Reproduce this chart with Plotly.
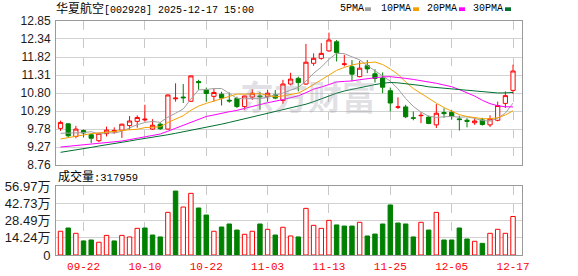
import plotly.graph_objects as go

# ---------------- data ----------------
dates = ["09-17", "09-18", "09-19", "09-22", "09-23", "09-24", "09-25", "09-26", "09-29", "09-30",
         "10-09", "10-10", "10-13", "10-14", "10-15", "10-16", "10-17", "10-20", "10-21", "10-22",
         "10-23", "10-24", "10-27", "10-28", "10-29", "10-30", "10-31", "11-03", "11-04", "11-05",
         "11-06", "11-07", "11-10", "11-11", "11-12", "11-13", "11-14", "11-17", "11-18", "11-19",
         "11-20", "11-21", "11-24", "11-25", "11-26", "11-27", "11-28", "12-01", "12-02", "12-03",
         "12-04", "12-05", "12-08", "12-09", "12-10", "12-11", "12-12", "12-15", "12-16", "12-17"]

opens = [9.80, 9.93, 9.57, 9.74, 9.62, 9.45, 9.65, 9.70, 9.75, 9.88,
         10.00, 10.04, 9.78, 9.92, 9.78, 10.64, 10.69, 10.57, 11.13, 10.89,
         10.71, 10.77, 10.60, 10.65, 10.42, 10.69, 10.72, 10.70, 10.75, 10.59,
         11.06, 11.22, 11.06, 11.65, 11.79, 12.00, 12.26, 11.62, 11.55, 11.27,
         11.58, 11.35, 11.23, 10.87, 10.40, 10.41, 10.10, 10.16, 10.12, 9.90,
         10.25, 10.26, 10.07, 10.03, 9.96, 10.04, 9.90, 10.03, 10.51, 10.88]
highs = [10.02, 9.94, 9.87, 9.77, 9.66, 9.67, 9.85, 9.83, 9.93, 10.15,
         10.17, 10.47, 10.06, 9.97, 10.76, 11.08, 11.06, 11.30, 11.18, 10.96,
         10.92, 10.84, 10.82, 10.70, 10.73, 10.91, 10.83, 10.90, 10.89, 11.18,
         11.38, 11.27, 12.20, 11.93, 12.22, 12.52, 12.31, 11.89, 11.74, 11.72,
         11.74, 11.48, 11.39, 10.96, 10.68, 10.47, 10.28, 10.26, 10.16, 10.49,
         10.37, 10.33, 10.16, 10.09, 10.08, 10.10, 10.17, 10.56, 10.85, 11.61]
lows = [9.73, 9.54, 9.52, 9.55, 9.38, 9.41, 9.57, 9.65, 9.53, 9.77,
        9.82, 9.99, 9.76, 9.76, 9.77, 10.56, 10.52, 10.55, 10.90, 10.56,
        10.56, 10.45, 10.53, 10.38, 10.33, 10.61, 10.33, 10.56, 10.63, 10.50,
        11.02, 10.85, 11.04, 11.58, 11.75, 11.98, 11.70, 11.56, 11.14, 11.25,
        11.37, 11.10, 10.80, 10.28, 10.35, 10.09, 10.03, 9.95, 9.92, 9.81,
        10.10, 10.05, 9.74, 9.83, 9.90, 9.88, 9.84, 10.00, 10.38, 10.78]
closes = [9.97, 9.59, 9.78, 9.67, 9.52, 9.66, 9.75, 9.74, 9.92, 10.01,
          10.11, 10.06, 9.89, 9.79, 10.75, 10.66, 10.67, 11.29, 11.10, 10.79,
          10.82, 10.66, 10.58, 10.42, 10.72, 10.80, 10.70, 10.80, 10.66, 11.06,
          11.20, 11.10, 11.68, 11.79, 11.93, 12.31, 11.95, 11.63, 11.34, 11.51,
          11.49, 11.22, 10.97, 10.52, 10.41, 10.13, 10.09, 10.17, 9.94, 10.23,
          10.22, 10.14, 10.05, 10.00, 10.01, 9.91, 10.07, 10.45, 10.73, 11.43]

ma5 = [9.66, 9.67, 9.66, 9.68, 9.706, 9.644, 9.676, 9.668, 9.718, 9.816,
       9.906, 9.968, 9.998, 9.972, 10.12, 10.23, 10.352, 10.632, 10.894, 10.902,
       10.934, 10.932, 10.79, 10.654, 10.64, 10.636, 10.644, 10.688, 10.736, 10.804,
       10.884, 10.964, 11.14, 11.366, 11.54, 11.762, 11.932, 11.922, 11.832, 11.748,
       11.584, 11.438, 11.306, 11.142, 10.922, 10.65, 10.424, 10.264, 10.148, 10.112,
       10.13, 10.14, 10.116, 10.128, 10.084, 10.022, 10.008, 10.088, 10.234, 10.518]
ma10 = [9.50, 9.54, 9.58, 9.62, 9.65, 9.67, 9.70, 9.72, 9.74, 9.761,
        9.775, 9.822, 9.833, 9.845, 9.968, 10.068, 10.160, 10.315, 10.433, 10.511,
        10.582, 10.642, 10.711, 10.774, 10.771, 10.785, 10.788, 10.739, 10.695, 10.722,
        10.76, 10.804, 10.914, 11.051, 11.172, 11.323, 11.448, 11.531, 11.599, 11.644,
        11.673, 11.685, 11.614, 11.487, 11.335, 11.117, 10.931, 10.785, 10.645, 10.517,
        10.39, 10.282, 10.19, 10.138, 10.098, 10.076, 10.074, 10.102, 10.181, 10.301]
ma20 = [9.27, 9.29, 9.31, 9.33, 9.35, 9.36, 9.38, 9.40, 9.44, 9.48,
        9.52, 9.56, 9.60, 9.64, 9.72, 9.80, 9.88, 9.97, 10.06, 10.138,
        10.181, 10.234, 10.274, 10.312, 10.372, 10.429, 10.476, 10.528, 10.565, 10.618,
        10.672, 10.724, 10.814, 10.914, 10.973, 11.054, 11.118, 11.135, 11.147, 11.183,
        11.217, 11.245, 11.264, 11.269, 11.254, 11.22, 11.19, 11.158, 11.122, 11.081,
        11.032, 10.984, 10.903, 10.813, 10.717, 10.597, 10.503, 10.444, 10.414, 10.41]
ma30 = [9.12, 9.15, 9.18, 9.22, 9.26, 9.30, 9.33, 9.37, 9.40, 9.44,
        9.48, 9.51, 9.54, 9.57, 9.62, 9.66, 9.70, 9.75, 9.79, 9.83,
        9.87, 9.92, 9.97, 10.02, 10.07, 10.13, 10.18, 10.23, 10.28, 10.333,
        10.374, 10.424, 10.487, 10.558, 10.638, 10.727, 10.80, 10.862, 10.91, 10.96,
        11.006, 11.044, 11.08, 11.105, 11.093, 11.075, 11.056, 11.018, 10.98, 10.961,
        10.941, 10.924, 10.906, 10.892, 10.869, 10.839, 10.818, 10.806, 10.809, 10.821]

# volume in 万 (10k shares)
volumes = [19.6, 22.3, 17.9, 11.6, 12.4, 10.5, 16.2, 11.6, 16.2, 14.9,
           22.0, 22.3, 16.5, 14.9, 35.2, 52.8, 39.6, 50.9, 38.8, 33.0,
           19.6, 23.1, 25.6, 20.6, 17.1, 19.6, 25.6, 21.2, 16.5, 22.9,
           15.7, 14.9, 38.5, 24.5, 22.0, 28.6, 24.8, 23.9, 23.9, 27.0,
           15.7, 17.3, 25.6, 41.3, 26.4, 25.6, 14.9, 27.0, 20.6, 35.2,
           12.4, 12.4, 22.3, 13.2, 11.3, 9.6, 17.9, 21.2, 17.9, 31.7959]

price_ticks = [8.76, 9.27, 9.78, 10.29, 10.80, 11.31, 11.82, 12.34, 12.85]
vol_ticks = [0, 14.24, 28.49, 42.73, 56.97]
vol_tick_text = ["0", "14.24万", "28.49万", "42.73万", "56.97万"]
date_ticks = ["09-22", "10-10", "10-22", "11-03", "11-13", "11-25", "12-05", "12-17"]

title_name = "华夏航空"
title_rest = "[002928] 2025-12-17 15:00"
vol_label = "成交量"
vol_last = "317959"
ma_names = ["5PMA", "10PMA", "20PMA", "30PMA"]

# ---------------- styles ----------------
RED = "#ff0000"
GREEN = "#008000"
MA_COLORS = ["#a0a0a0", "#f5a000", "#ff00ff", "#007030"]
FRAME = "#9a9a9a"
GRID = "#d2d2d2"
VGRID = "#c8c8c8"

W, H = 578, 276
L, R, T, B = 56, 56, 21, 21
PW, PH = W - L - R, H - T - B


def px_x(px):
    return (px - L) / PW


def px_y(py):
    return (H - B - py) / PH


fig = go.Figure()

fig.add_trace(go.Candlestick(
    x=dates, open=opens, high=highs, low=lows, close=closes,
    increasing=dict(line=dict(color=RED, width=1), fillcolor="white"),
    decreasing=dict(line=dict(color=GREEN, width=1), fillcolor=GREEN),
    whiskerwidth=0, xaxis="x", yaxis="y", showlegend=False, hoverinfo="skip"))

for vals, col in zip([ma5, ma10, ma20, ma30], MA_COLORS):
    fig.add_trace(go.Scatter(x=dates, y=vals, mode="lines",
                             line=dict(color=col, width=1),
                             xaxis="x", yaxis="y", showlegend=False, hoverinfo="skip"))

up = [True] + [closes[i] >= closes[i - 1] for i in range(1, len(closes))]
fig.add_trace(go.Bar(
    x=dates, y=volumes, width=0.58,
    marker=dict(color=["white" if u else GREEN for u in up],
                line=dict(color=[RED if u else GREEN for u in up], width=1)),
    xaxis="x2", yaxis="y2", showlegend=False, hoverinfo="skip"))

xr = [-0.59, 60.17]
main_bottom = px_y(165)
vol_top = px_y(186)

axis_common = dict(showline=True, mirror=True, linecolor=FRAME, linewidth=1,
                   ticks="", zeroline=False, fixedrange=True, automargin=False)

fig.update_layout(
    width=W, height=H,
    margin=dict(l=L, r=R, t=T, b=B, pad=0, autoexpand=False),
    paper_bgcolor="white", plot_bgcolor="white",
    showlegend=False, boxgap=0.45, boxgroupgap=0,
    xaxis=dict(domain=[0, 1], anchor="y", type="category", range=xr,
               tickvals=date_ticks, showticklabels=False,
               showgrid=True, gridcolor=VGRID, griddash="dash", gridwidth=1,
               rangeslider=dict(visible=False), **axis_common),
    yaxis=dict(domain=[main_bottom, 1], anchor="x", range=[8.76, 12.85],
               tickvals=price_ticks, ticktext=[f"{v:.2f}" for v in price_ticks],
               showgrid=True, gridcolor=GRID, gridwidth=1,
               tickfont=dict(family="Liberation Sans", size=12, color="#1a1a1a"),
               ticklabelstandoff=2, **axis_common),
    xaxis2=dict(domain=[0, 1], anchor="y2", type="category", range=xr,
                matches="x", tickvals=date_ticks, ticktext=date_ticks,
                showgrid=True, gridcolor=VGRID, griddash="dash", gridwidth=1,
                tickfont=dict(family="Liberation Mono", size=11, color=RED),
                ticklabelstandoff=1, **axis_common),
    yaxis2=dict(domain=[0, vol_top], anchor="x2", range=[0, 56.97],
                tickvals=vol_ticks, ticktext=vol_tick_text,
                showgrid=True, gridcolor=GRID, gridwidth=1,
                tickfont=dict(family="Liberation Sans, Noto Sans CJK SC", size=13, color="#1a1a1a"),
                ticklabelstandoff=2, **axis_common),
)

annotations = []
# watermark
annotations.append(dict(xref="paper", yref="paper", x=px_x(308), y=px_y(95),
                        text="东方财富", showarrow=False, xanchor="center", yanchor="middle",
                        font=dict(family="Noto Sans CJK SC", size=34, color="rgba(150,150,165,0.28)",
                                  weight="bold")))
# title
annotations.append(dict(xref="paper", yref="paper", x=px_x(54), y=px_y(9),
                        text=f"<span style='font-size:12px'>{title_name}</span>{title_rest}",
                        showarrow=False, xanchor="left", yanchor="middle",
                        font=dict(family="Liberation Mono, Noto Sans CJK SC", size=10, color="#000")))
# volume label
annotations.append(dict(xref="paper", yref="paper", x=px_x(56), y=px_y(177),
                        text=f"<span style='font-size:12px'>{vol_label}</span>:{vol_last}",
                        showarrow=False, xanchor="left", yanchor="middle",
                        font=dict(family="Liberation Mono, Noto Sans CJK SC", size=10.5, color="#000")))
# legend
legend_text_x = [338, 379, 425, 471]
legend_rect_x = [365, 413, 459, 505]
shapes = []
for name, col, tx, rx in zip(ma_names, MA_COLORS, legend_text_x, legend_rect_x):
    annotations.append(dict(xref="paper", yref="paper", x=px_x(tx), y=px_y(9),
                            text=name, showarrow=False, xanchor="left", yanchor="middle",
                            font=dict(family="Liberation Mono", size=10, color="#000")))
    shapes.append(dict(type="rect", xref="paper", yref="paper",
                       x0=px_x(rx), x1=px_x(rx + 6), y0=px_y(11), y1=px_y(7.3),
                       fillcolor=col, line=dict(width=0)))

fig.update_layout(annotations=annotations, shapes=shapes)

fig.write_html("out.html")
